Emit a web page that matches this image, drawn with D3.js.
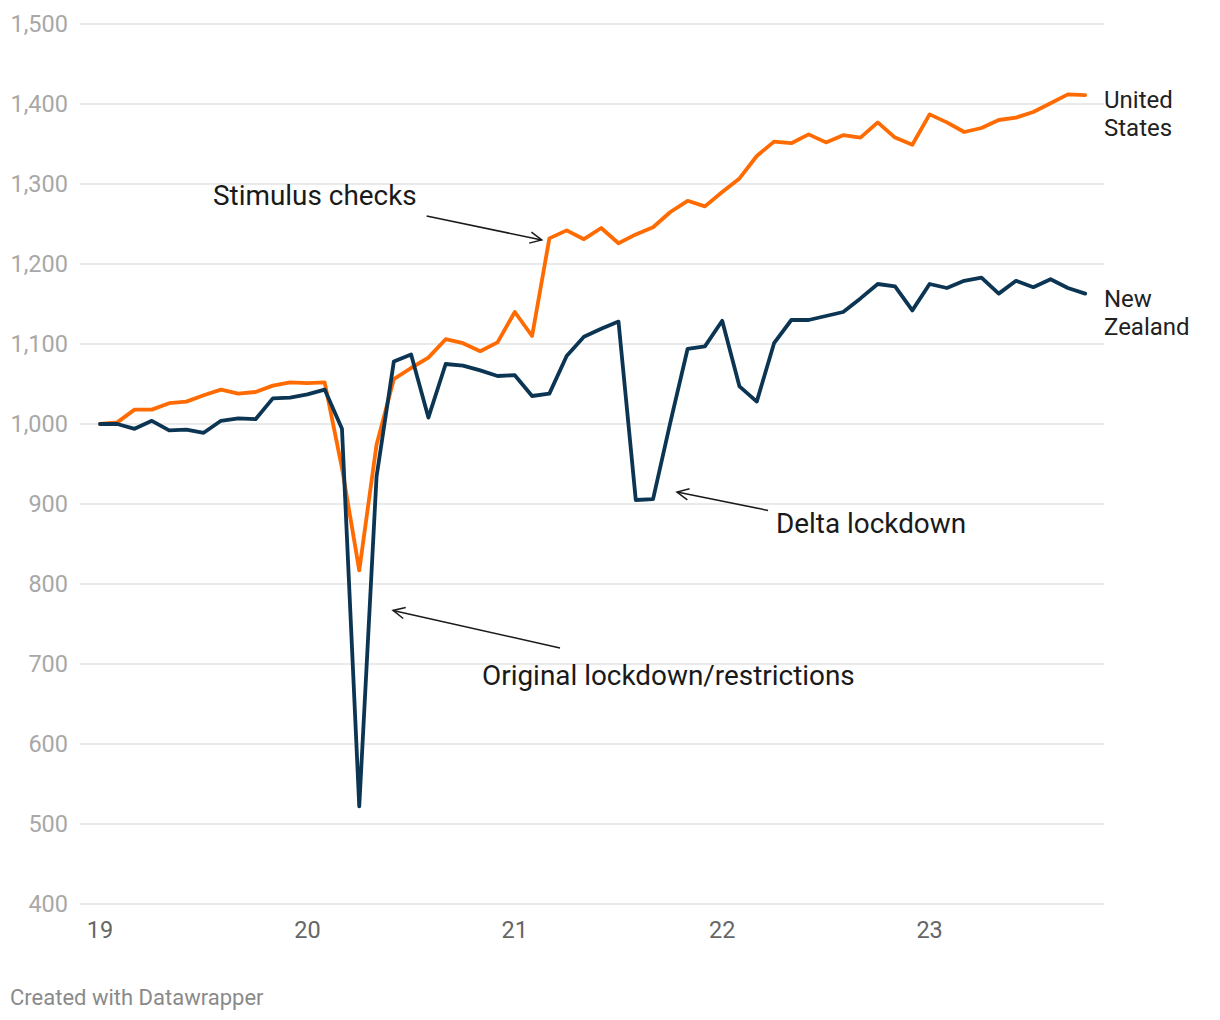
<!DOCTYPE html>
<html><head><meta charset="utf-8">
<script src="https://cdn.jsdelivr.net/npm/d3@7"></script>
<style>
body{margin:0;background:#fff;font-family:Roboto,"Noto Sans",sans-serif;}
svg{display:block;}
</style></head><body>
<svg id="c" width="1220" height="1020"></svg>
<script>
// Monthly index, Jan 2019 = 1000 (Jan 2019 .. Oct 2023)
const startYear = 19;
const unitedStates = [1000,1002,1018,1018,1026,1028,1036,1043,1038,1040,1048,1052,
  1051,1052,945,817,974,1056,1070,1083,1106,1101,1091,1102,
  1140,1110,1232,1242,1231,1245,1226,1237,1246,1265,1279,1272,
  1290,1307,1335,1353,1351,1362,1352,1361,1358,1377,1358,1349,
  1387,1377,1365,1370,1380,1383,1390,1401,1412,1411];
const newZealand = [1000,1000,994,1004,992,993,989,1004,1007,1006,1032,1033,
  1037,1043,994,522,934,1078,1087,1008,1075,1073,1067,1060,
  1061,1035,1038,1085,1109,1119,1128,905,906,1002,1094,1097,
  1129,1047,1028,1101,1130,1130,1135,1140,1157,1175,1172,1142,
  1175,1170,1179,1183,1163,1179,1171,1181,1170,1163];
const yTicks = [400,500,600,700,800,900,1000,1100,1200,1300,1400,1500];
const xTicks = [19,20,21,22,23];
const seriesNames = [["United","States"],["New","Zealand"]];
const colors = ["#ff6b00","#0b3553"];
const annotations = [
  {text:"Stimulus checks", tx:19.545, ty:1286, from:[20.575,1260], to:[21.13,1230]},
  {text:"Original lockdown/restrictions", tx:20.842, ty:686, from:[21.218,720], to:[20.413,767]},
  {text:"Delta lockdown", tx:22.259, ty:876, from:[22.221,892], to:[21.782,915]}
];

const svg = d3.select("#c");
const x = d3.scaleLinear().domain([19,24]).range([100,100+5*207.4]);
const y = d3.scaleLinear().domain([400,1500]).range([904,24]);
const xOf = i => x(startYear + i/12);

// gridlines
svg.append("g").selectAll("line").data(yTicks).join("line")
  .attr("x1",80).attr("x2",1104)
  .attr("y1",d=>y(d)).attr("y2",d=>y(d))
  .attr("stroke","#e3e3e3").attr("stroke-width",1.5);
// y labels
svg.append("g").selectAll("text").data(yTicks).join("text")
  .attr("x",68).attr("y",d=>y(d)).attr("dy","0.35em")
  .attr("text-anchor","end").attr("fill","#a8a8a8")
  .attr("font-size",23.5).text(d=>d3.format(",")(d));
// x labels
svg.append("g").selectAll("text").data(xTicks).join("text")
  .attr("x",d=>x(d)).attr("y",930).attr("dy","0.35em")
  .attr("text-anchor","middle").attr("fill","#666")
  .attr("font-size",23.5).text(d=>d);

const line = d3.line().x((d,i)=>xOf(i)).y(d=>y(d));
[unitedStates,newZealand].forEach((s,k)=>{
  svg.append("path").datum(s).attr("d",line)
    .attr("fill","none").attr("stroke",colors[k]).attr("stroke-width",3.8)
    .attr("stroke-linejoin","round").attr("stroke-linecap","round");
});
// series labels
[[unitedStates,0],[newZealand,1]].forEach(([s,k])=>{
  const ly = k===0 ? y(1405) : y(1157);
  const t = svg.append("text").attr("x",1104).attr("y",ly).attr("font-size",24).attr("fill","#222");
  seriesNames[k].forEach((w,j)=>t.append("tspan").attr("x",1104).attr("dy",j===0?"0.35em":"28").text(w));
});

// annotations
annotations.forEach(a=>{
  svg.append("text").attr("x",x(a.tx)).attr("y",y(a.ty)).attr("dy","0.35em")
    .attr("font-size",27.9).attr("fill","#1a1a1a").text(a.text);
  const x1=x(a.from[0]), y1=y(a.from[1]), x2=x(a.to[0]), y2=y(a.to[1]);
  svg.append("line").attr("x1",x1).attr("y1",y1).attr("x2",x2).attr("y2",y2)
    .attr("stroke","#1a1a1a").attr("stroke-width",1.5);
  const ang = Math.atan2(y1-y2,x1-x2), L=13, sp=0.45;
  const p = [[x2+L*Math.cos(ang+sp),y2+L*Math.sin(ang+sp)],[x2,y2],[x2+L*Math.cos(ang-sp),y2+L*Math.sin(ang-sp)]];
  svg.append("path").attr("d",d3.line()(p)).attr("fill","none")
    .attr("stroke","#1a1a1a").attr("stroke-width",1.5);
});

svg.append("text").attr("x",10).attr("y",997).attr("dy","0.35em")
  .attr("font-size",22).attr("fill","#8a8a8a").text("Created with Datawrapper");
</script>
</body></html>
